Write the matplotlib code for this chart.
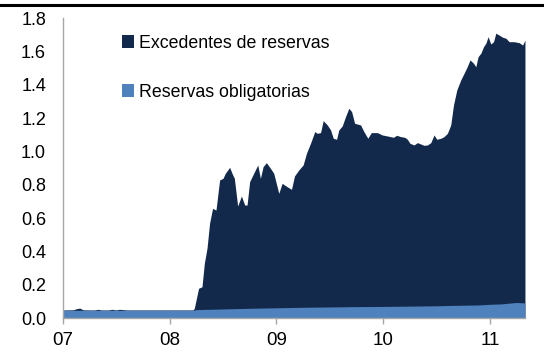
import matplotlib
matplotlib.use("Agg")
import matplotlib.pyplot as plt
from matplotlib.lines import Line2D
from matplotlib.patches import Patch

plt.rcParams['font.family'] = ['Liberation Sans', 'DejaVu Sans']

# Reservas totales (excedentes + obligatorias), billones; eje x en años (07 = 2007)
anios_tot = [7.00, 7.10, 7.13, 7.16, 7.19, 7.25, 7.30, 7.33, 7.36, 7.43, 7.46, 7.50, 7.53, 7.60, 8.00,
             8.22, 8.232, 8.272, 8.304, 8.326, 8.351, 8.375, 8.403, 8.435, 8.469, 8.501, 8.522,
             8.563, 8.585, 8.607, 8.638, 8.673, 8.704, 8.726, 8.750, 8.788, 8.826, 8.851, 8.876,
             8.907, 8.945, 8.976, 9.023, 9.054, 9.101, 9.142, 9.170, 9.210, 9.251, 9.282, 9.320,
             9.360, 9.383, 9.414, 9.439, 9.477, 9.508, 9.533, 9.564, 9.585, 9.617, 9.648, 9.679,
             9.705, 9.733, 9.789, 9.820, 9.857, 9.889, 9.946, 9.992, 10.039, 10.096, 10.127,
             10.164, 10.202, 10.227, 10.251, 10.289, 10.321, 10.352, 10.383, 10.415, 10.446,
             10.477, 10.502, 10.540, 10.570, 10.602, 10.633, 10.659, 10.690, 10.727, 10.758,
             10.783, 10.814, 10.846, 10.868, 10.889, 10.915, 10.940, 10.962, 10.983, 11.008,
             11.034, 11.055, 11.086, 11.118, 11.149, 11.180, 11.227, 11.274, 11.306, 11.328]
reservas_totales = [0.050, 0.051, 0.058, 0.061, 0.051, 0.050, 0.050, 0.054, 0.050, 0.050, 0.054, 0.050, 0.054, 0.050, 0.050,
                    0.050, 0.060, 0.180, 0.189, 0.330, 0.420, 0.570, 0.659, 0.649, 0.829, 0.839, 0.869,
                    0.905, 0.869, 0.839, 0.673, 0.733, 0.679, 0.679, 0.819, 0.869, 0.919, 0.839, 0.909,
                    0.933, 0.899, 0.869, 0.749, 0.809, 0.789, 0.773, 0.853, 0.889, 0.919, 0.989, 1.049,
                    1.119, 1.109, 1.113, 1.185, 1.159, 1.129, 1.079, 1.073, 1.129, 1.153, 1.209, 1.259,
                    1.239, 1.169, 1.159, 1.119, 1.079, 1.113, 1.113, 1.099, 1.093, 1.085, 1.097,
                    1.089, 1.085, 1.073, 1.049, 1.039, 1.053, 1.045, 1.037, 1.039, 1.053,
                    1.099, 1.073, 1.079, 1.089, 1.109, 1.159, 1.279, 1.369, 1.429, 1.469,
                    1.502, 1.549, 1.529, 1.508, 1.568, 1.589, 1.628, 1.649, 1.688, 1.644,
                    1.658, 1.709, 1.698, 1.685, 1.679, 1.658, 1.658, 1.652, 1.638, 1.668]

# Reservas obligatorias
anios_oblig = [7.00, 8.22, 8.25, 8.50, 8.75, 9.00, 9.25, 9.50, 9.75, 10.00, 10.25, 10.50,
               10.70, 10.90, 11.00, 11.10, 11.20, 11.25, 11.328]
reservas_oblig = [0.048, 0.048, 0.052, 0.056, 0.060, 0.063, 0.066, 0.068, 0.070, 0.071, 0.073, 0.075,
                  0.078, 0.080, 0.084, 0.086, 0.092, 0.095, 0.092]

ticks_x = [7, 8, 9, 10, 11]
etiquetas_x = ['07', '08', '09', '10', '11']
ticks_y = [0.0, 0.2, 0.4, 0.6, 0.8, 1.0, 1.2, 1.4, 1.6, 1.8]

color_exc = '#13294B'
color_obl = '#4F81BD'

fig = plt.figure(figsize=(5.44, 3.56), dpi=100)
ax = fig.add_axes([0.1153, 0.1059, 0.8497, 0.8435])

ax.fill_between(anios_tot, 0, reservas_totales, color=color_exc, linewidth=0)
ax.fill_between(anios_oblig, 0, reservas_oblig, color=color_obl, linewidth=0)

ax.set_xlim(7.0, 11.328)
ax.set_ylim(0, 1.8)
ax.set_xticks(ticks_x)
ax.set_xticklabels(etiquetas_x)
ax.set_yticks(ticks_y)
ax.set_yticklabels([f'{v:.1f}' for v in ticks_y])

for s in ['top', 'right']:
    ax.spines[s].set_visible(False)
for s in ['left', 'bottom']:
    ax.spines[s].set_color('#A6A6A6')
    ax.spines[s].set_linewidth(1.0)

ax.tick_params(axis='y', length=0, pad=12, labelsize=13)
ax.tick_params(axis='x', length=4.5, width=1, color='#A6A6A6', direction='out', pad=5.5, labelsize=13.5)

handles = [Patch(facecolor=color_exc, edgecolor='none'), Patch(facecolor=color_obl, edgecolor='none')]
ax.legend(handles, ['Excedentes de reservas', 'Reservas obligatorias'],
          loc='upper left', bbox_to_anchor=(0.112, 0.968), frameon=False,
          fontsize=12.75, handlelength=0.72, handleheight=0.72, handletextpad=0.25,
          labelspacing=1.8, borderaxespad=0)

fig.add_artist(Line2D([0, 1], [0.986, 0.986], transform=fig.transFigure, color='black', linewidth=2.2))

fig.savefig('out.png', dpi=100)
